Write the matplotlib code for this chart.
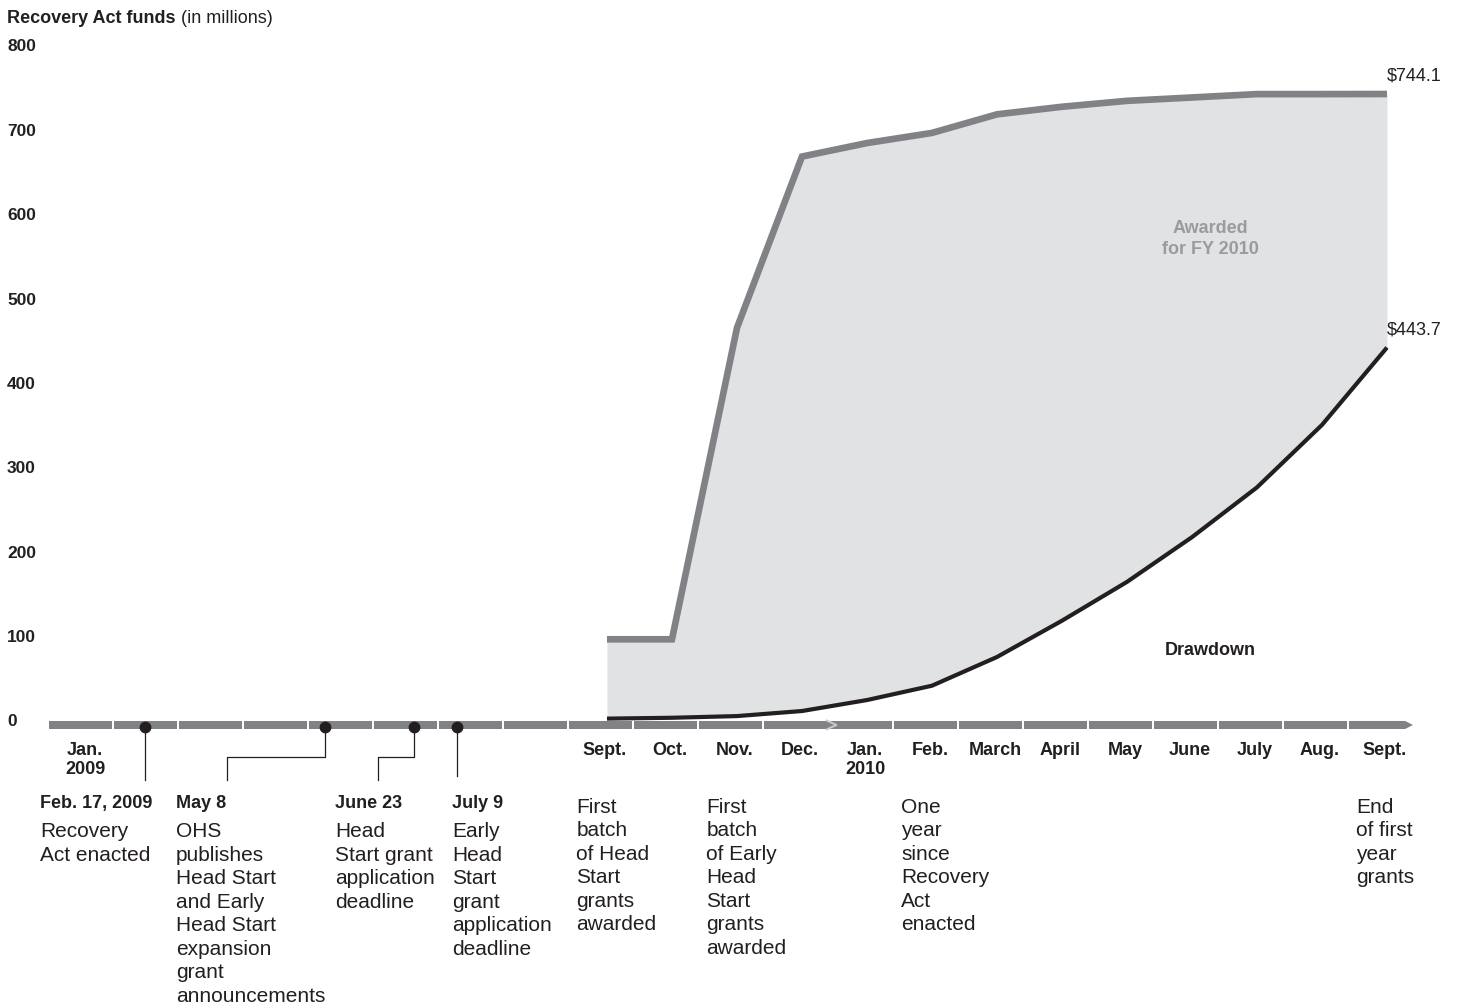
import matplotlib.pyplot as plt
from matplotlib.patches import Polygon, Rectangle

plt.rcParams['font.family'] = ['Liberation Sans', 'DejaVu Sans']

# ----- data ----- #
# timeline, one slot per month from Jan. 2009 to Sept. 2010
month_labels = ["Jan.\n2009", "", "", "", "", "", "", "", "Sept.", "Oct.", "Nov.", "Dec.",
                "Jan.\n2010", "Feb.", "March", "April", "May", "June", "July", "Aug.", "Sept."]

# Recovery Act funds (in millions), Sept. 2009 .. Sept. 2010
fund_months = ["Sept.", "Oct.", "Nov.", "Dec.", "Jan.", "Feb.", "March",
               "April", "May", "June", "July", "Aug.", "Sept."]
awarded = [98, 98, 467, 670, 686, 698, 720, 729, 736, 740, 744, 744, 744.1]
drawdown = [4, 5, 7, 13, 26, 43, 77, 120, 166, 219, 278, 352, 443.7]

yticks = [0, 100, 200, 300, 400, 500, 600, 700, 800]

# events on the timeline (position in months since Jan. 1, 2009)
event_dates = ["Feb. 17, 2009", "May 8", "June 23", "July 9"]
event_pos = [1.49, 4.26, 5.63, 6.29]
event_text = ["Recovery\nAct enacted",
              "OHS\npublishes\nHead Start\nand Early\nHead Start\nexpansion\ngrant\nannouncements",
              "Head\nStart grant\napplication\ndeadline",
              "Early\nHead\nStart\ngrant\napplication\ndeadline"]
event_text_x = [-0.12, 1.97, 4.42, 6.22]
event_elbow = [None, 2.75, 5.08, None]

# notes under the month labels
note_month = [8, 10, 13, 20]
note_text = ["First\nbatch\nof Head\nStart\ngrants\nawarded",
             "First\nbatch\nof Early\nHead\nStart\ngrants\nawarded",
             "One\nyear\nsince\nRecovery\nAct\nenacted",
             "End\nof first\nyear\ngrants"]

# ----- colours ----- #
dark = "#231f20"
gray = "#808285"
fill = "#e1e2e4"

fig = plt.figure(figsize=(14.59, 10.08), dpi=100)
ax = fig.add_axes([0, 0, 1, 1])
ax.set_xlim(-0.738, 21.708)
ax.set_ylim(-338.9, 855.5)
ax.axis("off")

# data sit a bit past mid month
start = month_labels.index("Sept.")
xs = [start + i + 0.6 for i in range(len(fund_months))]

ax.fill_between(xs, drawdown, awarded, color=fill, lw=0, zorder=1)
ax.plot(xs, awarded, color=gray, lw=4.8, solid_capstyle="butt", solid_joinstyle="miter", zorder=3)
ax.plot(xs, drawdown, color=dark, lw=3.0, solid_capstyle="butt", zorder=3)

# timeline bar
bot, top = -8.3, 1.2
mid = (bot + top) / 2
n = len(month_labels)
for i in range(n - 1):
    w = 0.97 if i != 11 else 1.0
    ax.add_patch(Rectangle((i + 0.015, bot), w, top - bot, color=gray, lw=0, zorder=2))
ax.add_patch(Polygon([(n - 1 + 0.015, bot), (n - 0.12, bot), (n, mid), (n - 0.12, top),
                      (n - 1 + 0.015, top)], closed=True, color=gray, lw=0, zorder=2))
ax.plot([11.98, 12.13, 11.98], [top + 0.5, mid, bot - 0.5], color="#c9cacc", lw=1.4, zorder=3)

for i, lab in enumerate(month_labels):
    if lab:
        ax.text(i + 0.57, -24, lab, ha="center", va="top", fontsize=13, fontweight="bold",
                color=dark, linespacing=1.15)

# y labels and title
for v in yticks:
    ax.text(-0.63, v, str(v), ha="left", va="center", fontsize=12.5, fontweight="bold", color=dark)
t1 = ax.text(-0.63, 833, "Recovery Act funds", ha="left", va="center", fontsize=13,
             fontweight="bold", color=dark)
ax.annotate(" (in millions)", xy=(1, 0), xycoords=t1, ha="left", va="bottom", fontsize=13, color=dark)

# end values and area labels
ax.text(xs[-1], 765, "$%.1f" % awarded[-1], ha="left", va="center", fontsize=13, color=dark)
ax.text(xs[-1], 464, "$%.1f" % drawdown[-1], ha="left", va="center", fontsize=13, color=dark)
ax.text(17.88, 572, "Awarded\nfor FY 2010", ha="center", va="center", fontsize=13,
        fontweight="bold", color="#9a9b9e", linespacing=1.3)
ax.text(17.88, 85, "Drawdown", ha="center", va="center", fontsize=13, fontweight="bold", color=dark)

# events
dot_y = -5.6
for pos, date, txt, tx, elbow in zip(event_pos, event_dates, event_text, event_text_x, event_elbow):
    ax.plot(pos, dot_y, "o", color=dark, ms=7.5, zorder=5)
    if elbow is None:
        ax.plot([pos, pos], [dot_y, -68.7 if pos < 3 else -64], color=dark, lw=0.9, zorder=4)
    else:
        ax.plot([pos, pos, elbow, elbow], [dot_y, -41.5, -41.5, -68.7], color=dark, lw=0.9, zorder=4)
    ax.text(tx, -96, date, ha="left", va="center", fontsize=13, fontweight="bold", color=dark)
    ax.text(tx, -119, txt, ha="left", va="top", fontsize=15, color=dark, linespacing=1.3)

for m, txt in zip(note_month, note_text):
    ax.text(m + 0.13, -90, txt, ha="left", va="top", fontsize=15, color=dark, linespacing=1.3)

fig.savefig("out.png", dpi=100)
